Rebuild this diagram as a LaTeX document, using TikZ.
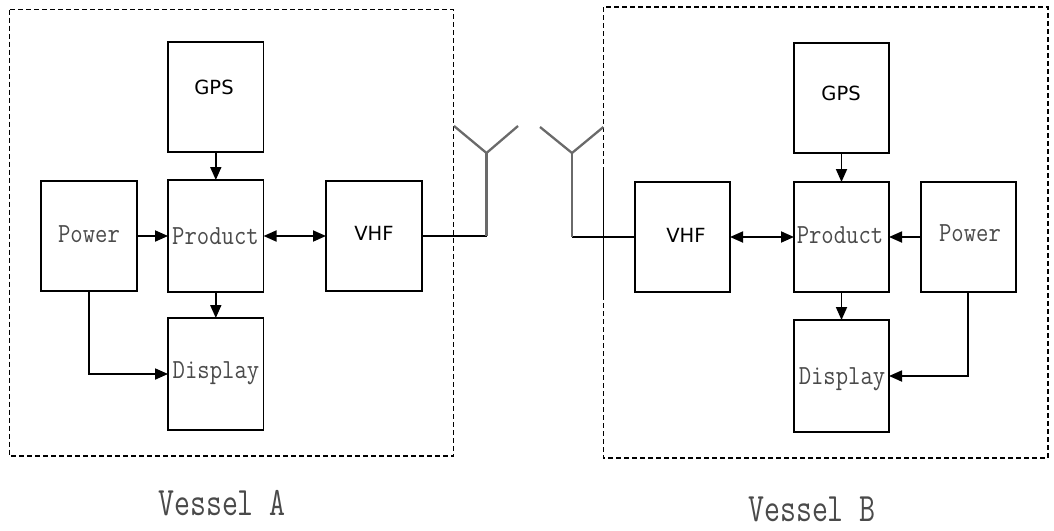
\documentclass[tikz,border=0pt]{standalone}
\usepackage{fontspec}
\usepackage{graphicx}
\usetikzlibrary{arrows.meta}
\newfontfamily\blocksans{DejaVu Sans}
\definecolor{txtgray}{HTML}{4A4A4A}
\definecolor{antgray}{HTML}{6A6A6A}
\tikzset{
  blockbox/.style={draw=black, line width=1.8pt, rectangle, inner sep=0pt, outer sep=0pt},
  vessel/.style={draw=black, line width=1.6pt, dash pattern=on 5pt off 3pt},
  monotxt/.style={inner sep=0pt, text=txtgray, font=\fontsize{24}{24}\selectfont\ttfamily},
  sanstxt/.style={inner sep=0pt, text=black, font=\fontsize{19.5}{19.5}\selectfont\blocksans},
  vesseltxt/.style={inner sep=0pt, text=txtgray, font=\fontsize{31}{31}\selectfont\ttfamily},
  conn/.style={draw=black, line width=1.8pt, -{Triangle[length=13pt,width=11pt]}},
  biconn/.style={draw=black, line width=1.8pt, {Triangle[length=13pt,width=11pt]}-{Triangle[length=13pt,width=11pt]}},
  wire/.style={draw=black, line width=1.7pt},
  antwire/.style={draw=antgray, line width=2.3pt}
}
\begin{document}
\begin{tikzpicture}[x=1pt,y=-1pt]
\useasboundingbox (0,0) rectangle (1054,530);
% ---------- Vessel A ----------
\draw[vessel] (9.5,9.5) rectangle (453.5,456);
\node[blockbox, minimum width=95.5pt, minimum height=110pt] (gpsA) at (215.8,97) {};
\node[blockbox, minimum width=96pt, minimum height=110pt] (powA) at (89,236) {};
\node[blockbox, minimum width=95.5pt, minimum height=112pt] (prodA) at (215.8,236) {};
\node[blockbox, minimum width=95.5pt, minimum height=112pt] (dispA) at (215.8,374) {};
\node[blockbox, minimum width=96pt, minimum height=110pt] (vhfA) at (374,236) {};
\node[sanstxt] (tgpsA) at (214,87) {GPS};
\node[monotxt] (tpowA) at (89,234) {\scalebox{1}[1.15]{Power}};
\node[monotxt] (tprodA) at (215.5,236) {\scalebox{1}[1.15]{Product}};
\node[monotxt] (tdispA) at (216,373) {\scalebox{1}[1.15]{Display}};
\node[sanstxt] (tvhfA) at (374,233) {VHF};
\draw[conn] (gpsA.south) -- (prodA.north);
\draw[conn] (prodA.south) -- (dispA.north);
\draw[conn] (powA.east) -- (prodA.west);
\draw[conn] (powA.south) |- (dispA.west);
\draw[biconn] (prodA.east) -- (vhfA.west);
\coordinate (antAbase) at (486.5,236);
\coordinate (antAtop) at (486.5,153);
\coordinate (antAl) at (454,126);
\coordinate (antAr) at (518,126);
\draw[wire] (vhfA.east) -- (antAbase);
\draw[antwire] (antAbase) -- (antAtop);
\draw[antwire, line join=miter] (antAl) -- (antAtop) -- (antAr);
\node[vesseltxt] (labA) at (222,503) {\scalebox{1}[1.3]{Vessel A}};
% ---------- Vessel B ----------
\draw[vessel] (603.4,7) rectangle (1048,458);
\coordinate (edgeBtop) at (603.4,168);
\coordinate (edgeBbot) at (603.4,295);
\draw[wire] (edgeBtop) -- (edgeBbot);
\node[blockbox, minimum width=95pt, minimum height=110pt] (gpsB) at (841.5,98) {};
\node[blockbox, minimum width=95pt, minimum height=110pt] (vhfB) at (682.5,237) {};
\node[blockbox, minimum width=95pt, minimum height=110pt] (prodB) at (841.5,237) {};
\node[blockbox, minimum width=95pt, minimum height=110pt] (powB) at (968.3,237) {};
\node[blockbox, minimum width=95pt, minimum height=112pt] (dispB) at (841.5,376) {};
\node[sanstxt] (tgpsB) at (841,93) {GPS};
\node[sanstxt] (tvhfB) at (686,235) {VHF};
\node[monotxt] (tprodB) at (840,235) {\scalebox{1}[1.15]{Product}};
\node[monotxt] (tpowB) at (970,233) {\scalebox{1}[1.15]{Power}};
\node[monotxt] (tdispB) at (842,379) {\scalebox{1}[1.15]{Display}};
\draw[conn] (gpsB.south) -- (prodB.north);
\draw[conn] (prodB.south) -- (dispB.north);
\draw[conn] (powB.west) -- (prodB.east);
\draw[conn] (powB.south) |- (dispB.east);
\draw[biconn] (vhfB.east) -- (prodB.west);
\coordinate (antBbase) at (572,237);
\coordinate (antBtop) at (572,153);
\coordinate (antBl) at (540,127);
\coordinate (antBr) at (603.4,127);
\draw[wire] (vhfB.west) -- (antBbase);
\draw[antwire] (antBbase) -- (antBtop);
\draw[antwire, line join=miter] (antBl) -- (antBtop) -- (antBr);
\node[vesseltxt] (labB) at (812,509) {\scalebox{1}[1.3]{Vessel B}};
\end{tikzpicture}
\end{document}
